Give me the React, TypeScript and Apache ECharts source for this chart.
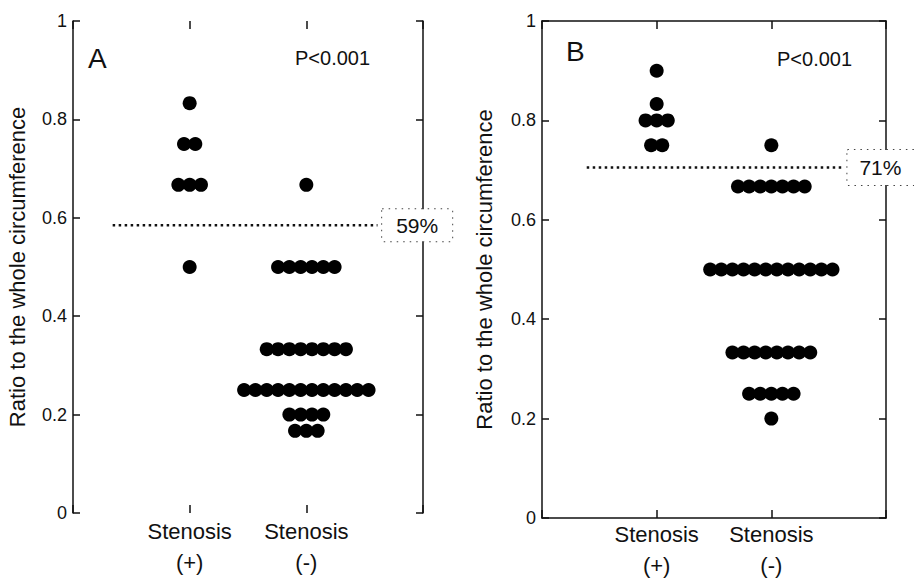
import { useEffect, useRef } from "react";
import * as echarts from "echarts";

// ---- data ----
const categoryLabels = ["Stenosis\n(+)", "Stenosis\n(-)"];
const yAxisName = "Ratio to the whole circumference";
const pValueText = "P<0.001";

// Panel A
const aPlusLevels = [0.833, 0.75, 0.667, 0.5];
const aPlusCounts = [1, 2, 3, 1];
const aMinusLevels = [0.667, 0.5, 0.333, 0.25, 0.2, 0.167];
const aMinusCounts = [1, 6, 8, 12, 4, 3];
const aCutoff = 0.585;
const aCutoffLabel = "59%";

// Panel B
const bPlusLevels = [0.9, 0.833, 0.8, 0.75];
const bPlusCounts = [1, 1, 3, 2];
const bMinusLevels = [0.75, 0.667, 0.5, 0.333, 0.25, 0.2];
const bMinusCounts = [1, 7, 12, 8, 5, 1];
const bCutoff = 0.705;
const bCutoffLabel = "71%";

const FONT = "'Liberation Sans', Arial, Helvetica, sans-serif";
const INK = "#111";

function swarm(center: number, levels: number[], counts: number[], step: number) {
  const pts: number[][] = [];
  levels.forEach((lv, i) => {
    const n = counts[i];
    for (let k = 0; k < n; k++) {
      pts.push([center + (k - (n - 1) / 2) * step, lv]);
    }
  });
  return pts;
}

function xAxes(gridIndex: number, showLine: boolean, labelMargin: number) {
  const base = {
    type: "value",
    gridIndex,
    min: 0,
    max: 3,
    interval: 1,
    splitLine: { show: false },
    axisLine: { show: showLine, onZero: false, lineStyle: { color: INK, width: 1.5 } },
    axisTick: { show: true, inside: true, length: 8, lineStyle: { color: INK, width: 1.5 } },
  };
  return [
    {
      ...base,
      position: "bottom",
      axisLabel: {
        show: true,
        margin: labelMargin,
        fontSize: 22,
        lineHeight: 31,
        color: INK,
        fontFamily: FONT,
        formatter: (v: number) => (v === 1 ? categoryLabels[0] : v === 2 ? categoryLabels[1] : ""),
      },
    },
    { ...base, position: "top", axisLabel: { show: false } },
  ];
}

function yAxes(gridIndex: number, nameGap: number) {
  const base = {
    type: "value",
    gridIndex,
    min: 0,
    max: 1,
    interval: 0.2,
    splitLine: { show: false },
    axisLine: { show: true, onZero: false, lineStyle: { color: INK, width: 1.5 } },
    axisTick: { show: true, inside: true, length: 7, lineStyle: { color: INK, width: 1.5 } },
  };
  return [
    {
      ...base,
      position: "left",
      name: yAxisName,
      nameLocation: "middle",
      nameGap,
      nameTextStyle: { fontSize: 22, color: INK, fontFamily: FONT },
      axisLabel: { show: true, margin: 6, fontSize: 18, color: INK, fontFamily: FONT },
    },
    { ...base, position: "right", axisLabel: { show: false } },
  ];
}

function panelSeries(
  xIdx: number,
  yIdx: number,
  plus: number[][],
  minus: number[][],
  cutoff: number,
  lineFrom: number,
  lineTo: number,
  labelX: number,
  label: string,
  pad: number[]
) {
  return [
    {
      type: "scatter",
      xAxisIndex: xIdx,
      yAxisIndex: yIdx,
      symbol: "circle",
      symbolSize: 14,
      itemStyle: { color: "#000", opacity: 1 },
      data: [...plus, ...minus],
      z: 3,
    },
    {
      type: "line",
      xAxisIndex: xIdx,
      yAxisIndex: yIdx,
      symbol: "none",
      lineStyle: { color: INK, width: 2.5, type: [2.5, 3.5] },
      data: [
        [lineFrom, cutoff],
        [lineTo, cutoff],
      ],
      z: 2,
    },
    {
      type: "scatter",
      xAxisIndex: xIdx,
      yAxisIndex: yIdx,
      symbolSize: 0,
      clip: false,
      data: [[labelX, cutoff]],
      z: 5,
      itemStyle: { opacity: 1 },
      label: {
        show: true,
        position: "inside",
        formatter: label,
        fontSize: 21,
        color: INK,
        fontFamily: FONT,
        backgroundColor: "#fff",
        borderColor: "#444",
        borderWidth: 1,
        borderType: [1.5, 5],
        padding: pad,
      },
    },
  ];
}

export default function App() {
  const ref = useRef<HTMLDivElement>(null);
  useEffect(() => {
    if (!ref.current) return;
    const chart = echarts.init(ref.current, null, { renderer: "svg" });
    const step = 0.097;
    const option = {
      animation: false,
      backgroundColor: "#fff",
      textStyle: { fontFamily: FONT },
      grid: [
        { left: 73, top: 21, width: 350, height: 492, outerBoundsMode: "none", containLabel: false },
        { left: 542, top: 21, width: 344, height: 497, outerBoundsMode: "none", containLabel: false },
      ],
      title: [
        { text: "A", left: 88, top: 44, padding: 0, textStyle: { fontSize: 28, fontWeight: "normal", color: INK, fontFamily: FONT } },
        { text: pValueText, left: 295, top: 48, padding: 0, textStyle: { fontSize: 20, fontWeight: "normal", color: INK, fontFamily: FONT } },
        { text: "B", left: 566, top: 37, padding: 0, textStyle: { fontSize: 28, fontWeight: "normal", color: INK, fontFamily: FONT } },
        { text: pValueText, left: 777, top: 49, padding: 0, textStyle: { fontSize: 20, fontWeight: "normal", color: INK, fontFamily: FONT } },
      ],
      xAxis: [...xAxes(0, false, 3), ...xAxes(1, true, 1)],
      yAxis: [...yAxes(0, 45), ...yAxes(1, 47)],
      series: [
        ...panelSeries(
          0, 0,
          swarm(1, aPlusLevels, aPlusCounts, step),
          swarm(2, aMinusLevels, aMinusCounts, step),
          aCutoff, 0.34, 2.61, 2.95, aCutoffLabel, [6, 14, 5, 14]
        ),
        ...panelSeries(
          2, 2,
          swarm(1, bPlusLevels, bPlusCounts, step),
          swarm(2, bMinusLevels, bMinusCounts, step),
          bCutoff, 0.39, 2.63, 2.96, bCutoffLabel, [7, 14, 7, 12]
        ),
      ],
    };
    chart.setOption(option as any);
    return () => chart.dispose();
  }, []);
  return (
    <div
      ref={ref}
      style={{ position: "fixed", left: 0, top: 0, width: 914, height: 578, background: "#fff" }}
    />
  );
}
